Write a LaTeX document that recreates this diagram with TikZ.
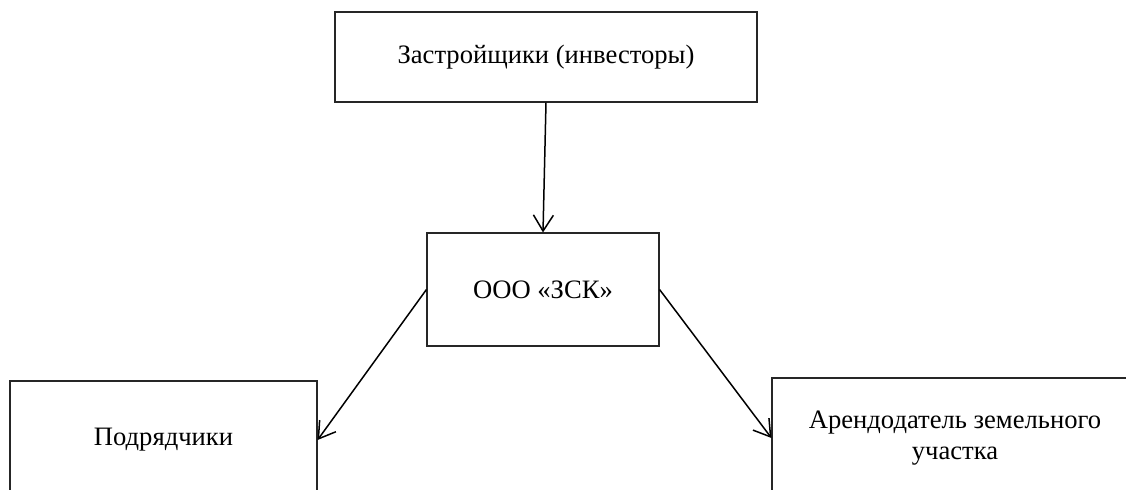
\documentclass[tikz,border=0pt]{standalone}
\usepackage{fontspec}
\setmainfont{Liberation Serif}
\usetikzlibrary{arrows.meta}
\tikzset{
  blok/.style={draw=black!85, line width=0.55pt, inner sep=0pt, align=center,
    font=\fontsize{13.3}{15.5}\selectfont},
  strelka/.style={-{Straight Barb[length=8pt,width=10pt]}, line width=0.75pt}
}
\begin{document}
\begin{tikzpicture}[x=0.5pt,y=-0.5pt]
  \useasboundingbox (0,0) rectangle (1126,489);
  % boxes
  \node[blok, minimum width=211pt, minimum height=45pt] (invest) at (546,57) {Застройщики (инвесторы)};
  \node[blok, minimum width=116pt, minimum height=56.5pt] (zsk) at (543,289.5) {ООО «ЗСК»};
  \node[blok, minimum width=153.5pt, minimum height=59pt] (podr) at (163.5,440) {Подрядчики};
  \node[blok, minimum width=183pt, minimum height=60pt] (arend) at (955,438) {Арендодатель земельного\\участка};
  % arrows
  \draw[strelka] (invest.south) -- (zsk.north);
  \draw[strelka] (zsk.west) -- (podr.east);
  \draw[strelka] (zsk.east) -- (arend.west);
\end{tikzpicture}
\end{document}
